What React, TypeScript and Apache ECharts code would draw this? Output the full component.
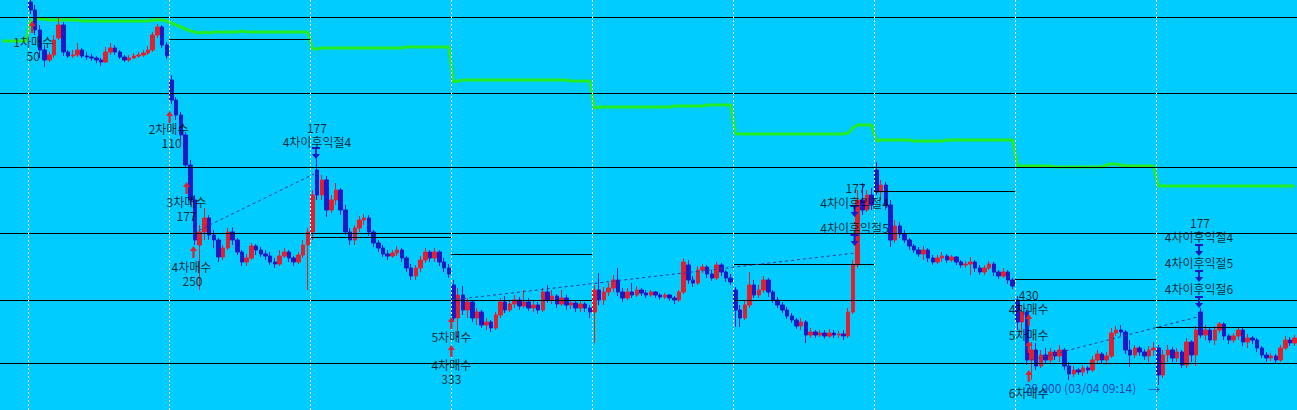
import React, { useEffect, useRef } from "react";
import * as echarts from "echarts";

// Prices in hundreds of won. Candles: [open, close, low, high]
const day1 = [
  [682, 674, 670, 684], [674, 654, 649, 679], [654, 634, 626, 659], [634, 624, 617, 639], [624, 629, 622, 632],
  [629, 644, 626, 649], [646, 659, 644, 666], [659, 632, 628, 662], [632, 628, 626, 634], [628, 629, 626, 634],
  [629, 634, 627, 641], [634, 628, 626, 636], [628, 627, 624, 632], [627, 626, 623, 630], [626, 624, 621, 628],
  [624, 622, 618, 626], [622, 632, 621, 637], [632, 636, 629, 641], [636, 632, 629, 639], [632, 627, 625, 634],
  [627, 624, 622, 629], [624, 626, 622, 629], [626, 628, 625, 631], [628, 629, 626, 632], [629, 631, 627, 634],
  [631, 634, 629, 638], [634, 649, 632, 652], [649, 657, 646, 660], [657, 639, 636, 659], [639, 628, 625, 642],
];
const day2 = [
  [604, 584, 580, 609], [584, 569, 564, 587], [569, 549, 544, 572], [549, 519, 516, 552], [519, 484, 479, 524],
  [484, 444, 439, 489], [439, 452, 394, 459], [452, 466, 444, 476], [466, 449, 444, 469], [449, 444, 436, 454],
  [444, 427, 422, 446], [427, 436, 424, 439], [436, 452, 434, 456], [452, 444, 439, 457], [444, 432, 429, 446],
  [432, 422, 418, 434], [422, 426, 418, 430], [426, 438, 424, 441], [438, 434, 429, 440], [434, 430, 427, 437],
  [430, 428, 424, 434], [428, 422, 419, 432], [422, 420, 416, 426], [420, 428, 418, 434], [428, 432, 426, 436],
  [432, 426, 422, 434], [426, 422, 418, 428], [422, 429, 420, 432], [429, 439, 426, 444], [439, 452, 394, 456],
];
const day3 = [
  [452, 489, 444, 494], [514, 489, 484, 526], [489, 504, 484, 509], [504, 474, 467, 508], [474, 484, 471, 489],
  [484, 494, 479, 501], [494, 474, 469, 496], [474, 452, 449, 479], [452, 444, 439, 456], [444, 456, 439, 459],
  [456, 464, 452, 468], [464, 466, 459, 470], [466, 452, 448, 469], [452, 441, 437, 454], [441, 436, 432, 444],
  [436, 430, 427, 439], [430, 428, 424, 434], [428, 431, 426, 434], [431, 434, 428, 438], [434, 426, 422, 436],
  [426, 416, 412, 428], [416, 408, 404, 420], [408, 416, 404, 419], [416, 424, 412, 428], [424, 432, 421, 436],
  [432, 426, 422, 434], [426, 432, 422, 436], [432, 422, 418, 434], [422, 416, 412, 426], [416, 410, 406, 420],
];
const day4 = [
  [399, 366, 362, 404], [366, 389, 346, 396], [389, 374, 369, 398], [374, 382, 366, 386], [382, 366, 362, 384],
  [366, 372, 359, 376], [372, 359, 356, 374], [359, 362, 354, 366], [362, 356, 352, 364], [356, 369, 354, 372],
  [369, 382, 366, 386], [382, 374, 371, 388], [374, 380, 372, 384], [380, 384, 376, 389], [384, 378, 374, 387],
  [378, 382, 376, 394], [382, 376, 373, 386], [376, 379, 372, 384], [379, 374, 370, 382], [374, 392, 372, 396],
  [392, 384, 381, 399], [384, 388, 380, 394], [388, 380, 376, 390], [380, 386, 378, 394], [386, 379, 374, 389],
  [379, 381, 375, 384], [381, 376, 372, 384], [376, 380, 372, 384], [380, 376, 372, 382], [376, 372, 366, 379],
];
const day5 = [
  [372, 394, 341, 399], [394, 384, 379, 411], [384, 392, 379, 397], [392, 396, 388, 401], [396, 404, 392, 409],
  [404, 392, 388, 416], [392, 386, 382, 396], [386, 392, 384, 396], [392, 389, 386, 401], [389, 394, 387, 398],
  [394, 391, 388, 396], [391, 389, 386, 394], [389, 392, 387, 394], [392, 389, 386, 393], [389, 387, 384, 391],
  [387, 389, 385, 391], [389, 386, 383, 390], [386, 384, 380, 388], [384, 392, 382, 394], [392, 422, 390, 426],
  [419, 404, 400, 424], [404, 401, 397, 408], [401, 414, 399, 418], [414, 417, 411, 420], [417, 410, 406, 419],
  [410, 406, 403, 414], [406, 419, 404, 422], [419, 412, 408, 421], [412, 406, 402, 414], [406, 402, 399, 410],
];
const day6 = [
  [394, 374, 357, 397], [374, 366, 357, 379], [366, 379, 364, 384], [379, 399, 376, 412], [399, 389, 386, 404],
  [389, 394, 386, 399], [394, 404, 391, 408], [404, 392, 387, 406], [392, 384, 381, 394], [384, 379, 376, 387],
  [379, 374, 371, 382], [374, 368, 365, 377], [368, 364, 361, 371], [364, 358, 355, 366], [358, 362, 354, 366],
  [362, 349, 341, 364], [349, 352, 346, 356], [352, 349, 346, 354], [349, 351, 347, 354], [351, 348, 345, 354],
  [348, 351, 346, 355], [351, 349, 346, 354], [349, 350, 346, 353], [350, 348, 344, 354], [348, 372, 346, 376],
  [372, 419, 370, 424], [419, 484, 416, 494], [484, 474, 469, 501], [474, 489, 472, 494], [489, 479, 474, 496],
];
const day7 = [
  [514, 492, 489, 522], [492, 499, 484, 504], [499, 479, 474, 502], [479, 444, 437, 484], [444, 458, 441, 464],
  [458, 450, 446, 462], [450, 444, 441, 454], [444, 438, 434, 446], [438, 434, 431, 440], [434, 430, 427, 437],
  [430, 434, 424, 438], [434, 426, 422, 436], [426, 422, 419, 429], [422, 426, 420, 429], [426, 428, 422, 432],
  [428, 424, 421, 430], [424, 427, 422, 429], [427, 422, 419, 428], [422, 419, 416, 424], [419, 420, 416, 423],
  [420, 422, 409, 427], [422, 416, 412, 424], [416, 412, 409, 419], [412, 416, 409, 419], [416, 420, 414, 423],
  [420, 412, 408, 422], [412, 408, 405, 414], [408, 412, 406, 416], [412, 404, 400, 414], [404, 398, 395, 406],
];
const day8 = [
  [384, 362, 354, 388], [362, 372, 349, 379], [372, 324, 319, 374], [324, 334, 304, 342], [334, 318, 314, 341],
  [318, 329, 316, 334], [329, 324, 320, 336], [324, 332, 320, 336], [332, 328, 324, 334], [328, 334, 322, 339],
  [334, 318, 314, 336], [318, 310, 304, 322], [310, 314, 307, 318], [314, 312, 309, 316], [312, 316, 308, 319],
  [316, 314, 310, 318], [314, 324, 312, 328], [324, 330, 321, 334], [330, 324, 320, 332], [324, 328, 319, 332],
  [328, 351, 326, 356], [351, 354, 348, 358], [354, 352, 348, 359], [352, 334, 330, 354], [334, 329, 317, 344],
  [329, 336, 326, 339], [336, 332, 328, 338], [332, 328, 324, 335], [328, 334, 322, 338], [334, 336, 328, 342],
];
const day9 = [
  [336, 309, 299, 339], [309, 329, 306, 334], [329, 334, 322, 339], [334, 326, 322, 337], [326, 332, 322, 336],
  [332, 319, 316, 334], [319, 342, 316, 346], [342, 329, 322, 344], [329, 354, 318, 358], [372, 349, 346, 376],
  [349, 354, 344, 359], [354, 344, 341, 356], [344, 354, 339, 358], [354, 360, 351, 362], [360, 348, 344, 362],
  [348, 344, 340, 350], [344, 348, 341, 351], [348, 354, 344, 356], [354, 342, 338, 356], [342, 346, 336, 350],
  [346, 344, 340, 348], [344, 336, 332, 346], [336, 329, 326, 338], [329, 326, 322, 332], [326, 328, 323, 331],
  [328, 324, 321, 330], [324, 336, 322, 339], [336, 344, 334, 348], [344, 341, 338, 347], [341, 346, 338, 349],
];

// Green moving-average line (hundreds of won), one value per candle slot
const greenPrefix = [643, 643, 643, 643, 643, 643];
const green1 = [664, 665, 665, 665, 664, 664, 664, 664, 664, 664, 664, 663, 663, 663, 663, 663, 663, 663, 663, 663, 663, 663, 663, 663, 663, 663, 664, 664, 664, 663];
const green2 = [661, 659, 657, 655, 653, 652, 651, 652, 651, 652, 652, 652, 652, 652, 652, 653, 652, 652, 652, 652, 652, 652, 652, 652, 652, 652, 652, 652, 652, 652];
const green3 = [635, 635, 636, 636, 636, 636, 636, 636, 636, 636, 636, 636, 636, 636, 636, 636, 636, 636, 636, 636, 637, 637, 637, 637, 637, 637, 637, 637, 637, 637];
const green4 = [602, 603, 604, 604, 604, 604, 604, 604, 604, 604, 604, 604, 604, 604, 604, 604, 604, 604, 604, 604, 604, 604, 604, 604, 604, 603, 603, 603, 603, 603];
const green5 = [576, 577, 577, 577, 577, 577, 577, 577, 577, 577, 577, 577, 577, 577, 577, 577, 577, 578, 578, 578, 578, 578, 578, 578, 579, 579, 579, 579, 579, 579];
const green6 = [550, 550, 550, 550, 550, 550, 550, 550, 550, 550, 550, 550, 550, 550, 550, 550, 550, 550, 550, 550, 550, 550, 550, 550, 551, 556, 559, 559, 559, 559];
const green7 = [543, 544, 544, 544, 544, 544, 544, 544, 543, 543, 543, 543, 543, 543, 543, 544, 544, 544, 544, 544, 544, 544, 544, 544, 544, 544, 544, 544, 544, 544];
const green8 = [518, 518, 518, 518, 518, 518, 518, 518, 517, 517, 517, 517, 517, 517, 517, 517, 517, 517, 517, 519, 520, 520, 519, 518, 518, 518, 518, 518, 518, 518];
const green9 = [498, 498, 498, 498, 498, 498, 498, 498, 498, 498, 498, 498, 498, 498, 498, 498, 498, 498, 498, 498, 498, 498, 498, 498, 498, 498, 498, 498, 498, 498];

const PREFIX = 6;
const PER_DAY = 30;
const dayStarts = [6, 36, 66, 96, 126, 156, 186, 216, 246];

// Full-width reference levels
const fullLevels = [667, 591, 517, 451, 321];
// Level segments: [fromSlot, toSlot, level]
const levelSegments = [
  [0, 126, 384], [156, 276, 384],
  [36, 66, 645], [66, 96, 447], [96, 126, 430],
  [156, 186, 420], [186, 216, 493], [216, 246, 405], [246, 276, 357],
];
// Dashed trend lines: [x1, y1, x2, y2] in slot / price units
const trendLines = [
  [41.17, 451, 66.8, 510],
  [96.04, 384, 182.06, 431],
  [219.34, 324, 254.73, 367],
];

// Signal texts: [slot, price, text, color]
const signalTexts = [
  [7.06, 643, "1차매수", "#000"], [7.06, 629, "50", "#000"],
  [35.87, 556, "2차매수", "#000"], [36.51, 542, "110", "#000"],
  [39.69, 483, "3차매수", "#000"], [39.69, 469, "177", "#000"],
  [40.75, 418, "4차매수", "#000"], [40.96, 404, "250", "#000"],
  [67.44, 557, "177", "#000"], [67.44, 543, "4차이후익절4", "#000"],
  [96.04, 348, "5차매수", "#000"], [96.04, 320, "4차매수", "#000"], [96.04, 306, "333", "#000"],
  [182.06, 497, "177", "#000"], [181.85, 482, "4차이후익절4", "#000"], [181.85, 457, "4차이후익절5", "#000"],
  [218.92, 390, "430", "#000"], [218.92, 376, "4차매수", "#000"], [218.92, 350, "5차매수", "#000"], [218.92, 292, "6차매수", "#000"],
  [229.93, 297, "29,900 (03/04 09:14)", "#22229a"], [245.61, 295, "→", "#22229a"],
  [255.36, 462, "177", "#000"], [255.15, 448, "4차이후익절4", "#000"], [255.15, 422, "4차이후익절5", "#000"], [255.15, 396, "4차이후익절6", "#000"],
];
const buyArrows = [
  [6.85, 657], [36.09, 567], [39.69, 496], [41.17, 432], [96.04, 361], [96.04, 333],
  [218.92, 364], [218.92, 337], [218.92, 308],
];
const sellArrows = [
  [67.23, 531], [181.85, 473], [181.85, 444], [255.15, 434], [255.15, 408], [255.15, 382],
];

const RED = "#e0202c";
const BLUE = "#1a1ac8";
const UP_ARROW = "path://M3.5,0 L7,5 L4.6,5 L4.6,12 L2.4,12 L2.4,5 L0,5 Z";
const DOWN_ARROW = "path://M0,0 L8,0 L8,2 L5,2 L5,7 L8,7 L4,12 L0,7 L3,7 L3,2 L0,2 Z";

export default function App() {
  const ref = useRef<HTMLDivElement>(null);
  useEffect(() => {
    if (!ref.current) return;
    const chart = echarts.init(ref.current, undefined, { renderer: "svg" });
    const days = [day1, day2, day3, day4, day5, day6, day7, day8, day9];
    const candles: any[] = [];
    for (let i = 0; i < PREFIX; i++) candles.push(["-", "-", "-", "-"]);
    days.forEach((d) => d.forEach((c) => candles.push(c)));
    const green = [
      ...greenPrefix, ...green1, ...green2, ...green3, ...green4, ...green5, ...green6, ...green7, ...green8, ...green9,
    ];
    const total = PREFIX + PER_DAY * days.length;
    const cats = Array.from({ length: total }, (_, i) => String(i));
    const font = '"Noto Sans CJK KR", "Noto Sans", sans-serif';

    const option: any = {
      animation: false,
      backgroundColor: "#00ccff",
      grid: { left: -2.32, top: 0, width: total * 4.72, height: 410, containLabel: false },
      xAxis: [
        { type: "category", data: cats, show: false, boundaryGap: true },
        { type: "value", min: 0, max: total, show: false },
      ],
      yAxis: { type: "value", min: 274, max: 684, show: false, splitLine: { show: false } },
      series: [
        {
          type: "line",
          xAxisIndex: 1,
          data: [],
          silent: true,
          z: 1,
          markLine: {
            silent: true,
            symbol: ["none", "none"],
            label: { show: false },
            lineStyle: { color: "#000", width: 1, type: "solid" },
            data: [
              ...fullLevels.map((v) => ({ yAxis: v })),
              ...levelSegments.map((s) => [{ coord: [s[0], s[2]] }, { coord: [s[1], s[2]] }]),
            ],
          },
        },
        {
          type: "line",
          xAxisIndex: 1,
          data: [],
          silent: true,
          z: 2,
          markLine: {
            silent: true,
            symbol: ["none", "none"],
            label: { show: false },
            lineStyle: { color: "#ffffff", width: 1, type: [2, 2] },
            data: dayStarts.map((x) => ({ xAxis: x })),
          },
        },
        {
          type: "line",
          xAxisIndex: 0,
          data: green,
          symbol: "none",
          silent: true,
          z: 3,
          lineStyle: { color: "#22ee22", width: 3 },
        },
        {
          type: "candlestick",
          xAxisIndex: 0,
          data: candles,
          barWidth: 4,
          silent: true,
          z: 4,
          itemStyle: { color: RED, color0: BLUE, borderColor: RED, borderColor0: BLUE, borderWidth: 1 },
        },
        {
          type: "line",
          xAxisIndex: 1,
          data: [],
          silent: true,
          z: 5,
          markLine: {
            silent: true,
            symbol: ["none", "none"],
            label: { show: false },
            lineStyle: { color: "#3a3a9a", width: 1, type: [3, 3] },
            data: trendLines.map((t) => [{ coord: [t[0], t[1]] }, { coord: [t[2], t[3]] }]),
          },
        },
        {
          type: "scatter",
          xAxisIndex: 1,
          data: buyArrows,
          symbol: UP_ARROW,
          symbolSize: [7, 12],
          silent: true,
          z: 6,
          itemStyle: { color: RED, opacity: 1 },
        },
        {
          type: "scatter",
          xAxisIndex: 1,
          data: sellArrows,
          symbol: DOWN_ARROW,
          symbolSize: [8, 12],
          silent: true,
          z: 6,
          itemStyle: { color: BLUE, opacity: 1 },
        },
        {
          type: "scatter",
          xAxisIndex: 1,
          silent: true,
          z: 7,
          symbolSize: 1,
          itemStyle: { color: "rgba(0,0,0,0)" },
          data: signalTexts.map((t) => ({
            value: [t[0], t[1]],
            label: {
              show: true,
              position: "inside",
              formatter: t[2] as string,
              color: t[3] as string,
              fontSize: 12,
              lineHeight: 12,
              fontFamily: font,
            },
          })),
        },
      ],
    };
    chart.setOption(option);
    return () => chart.dispose();
  }, []);
  return (
    <div
      ref={ref}
      style={{ position: "fixed", left: 0, top: 0, width: 1297, height: 410, background: "#00ccff" }}
    />
  );
}
